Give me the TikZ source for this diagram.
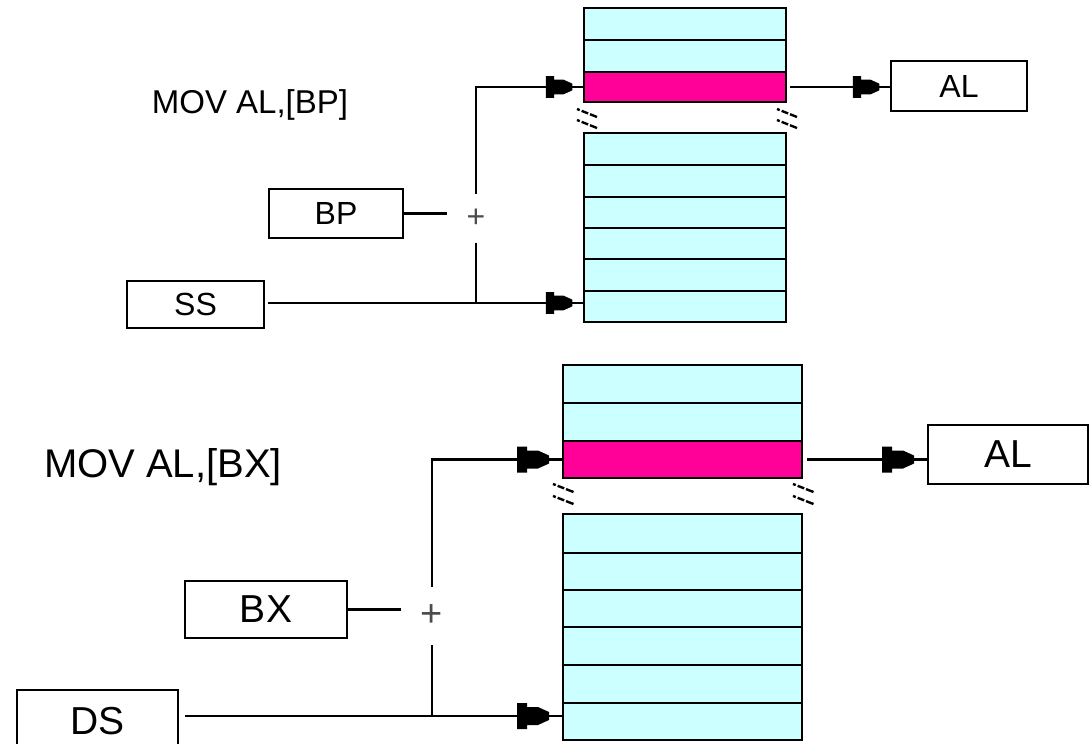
\documentclass[tikz,border=0pt]{standalone}
\usepackage{fontspec}
\setmainfont{Liberation Sans}
\usetikzlibrary{decorations.markings}
\definecolor{cellcyan}{RGB}{204,255,255}
\definecolor{cellpink}{RGB}{255,0,153}
\begin{document}
\begin{tikzpicture}[x=1pt,y=-1pt,line width=2.5pt,
  tcell/.style={draw,fill=cellcyan,minimum width=202pt,inner sep=0pt,outer sep=0pt},
  bcell/.style={draw,fill=cellcyan,minimum width=239pt,inner sep=0pt,outer sep=0pt},
  reg/.style={draw,fill=white,inner sep=0pt,outer sep=0pt},
  tfont/.style={font=\fontsize{32}{36}\selectfont},
  bfont/.style={font=\fontsize{39}{44}\selectfont},
  plus/.style={inner sep=0pt,outer sep=0pt,text=black!70},
  brk/.style={line width=2.4pt,dash pattern=on 3pt off 2pt on 7pt off 2pt on 8pt},
  plug/.style={postaction={decorate,decoration={markings,mark=at position 1 with {\fill[scale=#1] (-46,-13) -- (-36,-13) -- (-36,-9) -- (-25,-9) -- (-14,-4) -- (-14,4) -- (-25,9) -- (-36,9) -- (-36,13) -- (-46,13) -- cycle;}}}}]
\useasboundingbox (0,0) rectangle (1090,744);
\clip (0,0) rectangle (1090,744);

% ---------- top diagram ----------
\node[font=\fontsize{33}{40}\selectfont] (ttext) at (250,105) {MOV AL,[BP]};
\foreach \n/\a/\b in {t1/8/40,t2/40/72,t4/133/165,t5/165/197,t6/197/228,t7/228/259,t8/259/291,t9/291/322}
  \node[tcell,minimum height={(\b-\a)*1pt}] (\n) at (685,{(\a+\b)/2}) {};
\node[tcell,fill=cellpink,minimum height=30pt] (tp) at (685,87) {};
\draw[brk] (577,109) -- (597,117);
\draw[brk] (577,120) -- (597,128);
\draw[brk] (777,109) -- (797,117);
\draw[brk] (777,120) -- (797,128);

\node[reg,tfont,minimum width=134pt,minimum height=49pt] (BP) at (336,213.5) {BP};
\node[reg,tfont,minimum width=137pt,minimum height=47pt] (SS) at (195.5,304.5) {SS};
\node[reg,tfont,minimum width=136pt,minimum height=50pt] (tAL) at (959,86) {AL};
\node[plus,font=\fontsize{32}{36}\selectfont,minimum width=58pt,minimum height=49pt] (tplus) at (476,218) {+};
\coordinate (tj) at (476,303);

\draw (BP.east) -- (BP.east -| tplus.west);
\draw[plug=0.83] (tplus.north) |- (tp.west);
\draw (tplus.south) -- (tj);
\draw[plug=0.83,shorten <=4pt] (SS.east |- tj) -- (tj -| t9.west);
\draw[plug=0.83,shorten <=4pt] (tp.east) -- (tp.east -| tAL.west);

% ---------- bottom diagram ----------
\node[font=\fontsize{40}{48}\selectfont] (btext) at (163,467) {MOV AL,[BX]};
\foreach \n/\a/\b in {b1/365/403,b2/403/441,b4/514/553,b5/553/590,b6/590/627,b7/627/665,b8/665/703,b9/703/740}
  \node[bcell,minimum height={(\b-\a)*1pt}] (\n) at (682.5,{(\a+\b)/2}) {};
\node[bcell,fill=cellpink,minimum height=37pt] (bp) at (682.5,459.5) {};
\draw[brk] (553,484) -- (576,493);
\draw[brk] (553,496) -- (576,505);
\draw[brk] (793,484) -- (816,493);
\draw[brk] (793,496) -- (816,505);

\node[reg,bfont,minimum width=162pt,minimum height=57pt] (BX) at (266,609.5) {BX};
\node[reg,bfont,minimum width=161pt,minimum height=62pt] (DS) at (97.5,721) {DS};
\node[reg,bfont,minimum width=160pt,minimum height=59pt] (bAL) at (1008,454.5) {AL};
\node[plus,font=\fontsize{38}{42}\selectfont,minimum width=62pt,minimum height=58pt] (bplus) at (432,616) {+};
\coordinate (bj) at (432,716);

\draw (BX.east) -- (BX.east -| bplus.west);
\draw[plug=1] (bplus.north) |- (bp.west);
\draw (bplus.south) -- (bj);
\draw[plug=1,shorten <=7pt] (DS.east |- bj) -- (bj -| b9.west);
\draw[plug=1,shorten <=5pt] (bp.east) -- (bp.east -| bAL.west);
\end{tikzpicture}
\end{document}
